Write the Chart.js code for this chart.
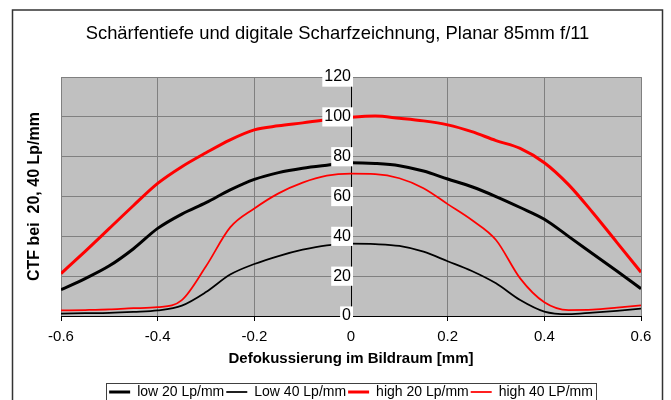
<!DOCTYPE html>
<html>
<head>
<meta charset="utf-8">
<script src="https://cdn.jsdelivr.net/npm/chart.js@4.4.0/dist/chart.umd.min.js"></script>
<style>
  html, body { margin: 0; padding: 0; background: #fff; }
  #grafico { display: block; }
</style>
</head>
<body>
<canvas id="grafico" width="671" height="400"></canvas>
<script>
/* DADOS */

const defokus = [-0.6, -0.55, -0.5, -0.45, -0.4, -0.35, -0.3, -0.25, -0.2, -0.15, -0.1, -0.05, 0,
                 0.05, 0.1, 0.15, 0.2, 0.25, 0.3, 0.35, 0.4, 0.45, 0.5, 0.55, 0.6];

const low20 = [13.2, 18.8, 25.2, 33.8, 44, 51.2, 56.9, 63.3, 68.6, 72, 74.2, 75.7, 77,
               76.6, 75.5, 72.8, 68.8, 64.9, 60, 54.5, 48.6, 40, 31.3, 22.6, 13.7];
const low40 = [1.2, 1.4, 1.6, 2.1, 2.8, 5.2, 12, 20.8, 26.1, 30.1, 33.3, 35.5, 36.3,
               36.1, 35.2, 32.3, 27.5, 22.6, 16.4, 8, 2.2, 0.9, 1.7, 2.6, 3.7];
const high20 = [21.3, 32.5, 44, 55.5, 66.6, 75, 82, 88.5, 93.5, 95.5, 97, 98.6, 99.8,
                100.4, 99.3, 98, 96, 92.6, 88.1, 84.2, 77, 66, 52, 37, 22];
const high40 = [2.8, 3.0, 3.3, 3.9, 4.4, 8, 25, 44.5, 54, 61.6, 67, 70.5, 71.5,
                71.3, 69.2, 64.2, 56.2, 48.2, 38.2, 18.9, 6.9, 3, 3.2, 4.2, 5.4];

const xTicks = ['-0.6', '-0.4', '-0.2', '0', '0.2', '0.4', '0.6'];


/* FUNCOES */

function pontos(valores) {
    return valores.map((v, i) => ({ x: defokus[i], y: v }));
}

function rotuloX(valor) {
    let idx = Math.round((valor + 0.6) / 0.2);
    return xTicks[idx];
}

// fundo cinza da area do grafico, moldura externa e caixa da legenda
const moldura = {
    id: 'moldura',
    beforeDraw(chart) {
        const ctx = chart.ctx;
        const area = chart.chartArea;
        ctx.save();
        ctx.fillStyle = '#fff';
        ctx.fillRect(0, 0, chart.width, chart.height);
        ctx.fillStyle = '#c0c0c0';
        ctx.fillRect(area.left, area.top, area.right - area.left, area.bottom - area.top);
        ctx.restore();
    },
    afterDraw(chart) {
        const ctx = chart.ctx;
        ctx.save();
        ctx.strokeStyle = '#333';
        ctx.lineWidth = 1.5;
        ctx.strokeRect(12.5, 10, 650, 420);

        const caixas = chart.legend.legendHitBoxes;
        let esq = Math.min(...caixas.map(c => c.left));
        let dir = Math.max(...caixas.map(c => c.left + c.width));
        ctx.strokeStyle = '#404040';
        ctx.lineWidth = 1;
        ctx.strokeRect(Math.round(esq - 3) + 0.5, Math.round(chart.legend.top) + 0.5, Math.round(dir - esq + 6), 30);
        ctx.restore();
    }
};


/* GRAFICO */

Chart.defaults.font.family = "'Liberation Sans', Arial, sans-serif";
Chart.defaults.color = '#000';

const grafico = document.querySelector('#grafico');

const graficoCTF = new Chart(grafico, {
    type: 'line',
    data: {
        datasets: [{
            label: 'low 20 Lp/mm',
            data: pontos(low20),
            borderColor: '#000',
            backgroundColor: '#000',
            borderWidth: 3
        }, {
            label: 'Low 40 Lp/mm',
            data: pontos(low40),
            borderColor: '#000',
            backgroundColor: '#000',
            borderWidth: 1.75
        }, {
            label: 'high 20 Lp/mm',
            data: pontos(high20),
            borderColor: '#ff0000',
            backgroundColor: '#ff0000',
            borderWidth: 3
        }, {
            label: 'high 40 LP/mm',
            data: pontos(high40),
            borderColor: '#ff0000',
            backgroundColor: '#ff0000',
            borderWidth: 1.75
        }]
    },
    options: {
        responsive: false,
        animation: false,
        layout: { padding: { left: 34, right: 30, top: 0, bottom: -9 } },
        elements: {
            point: { radius: 0 },
            line: { cubicInterpolationMode: 'monotone' }
        },
        scales: {
            x: {
                type: 'linear',
                position: 'bottom',
                min: -0.6,
                max: 0.6,
                ticks: { stepSize: 0.2, padding: 7, font: { size: 15 }, callback: rotuloX },
                grid: { color: '#808080', tickColor: '#000', tickLength: 5 },
                border: { color: '#000' },
                title: {
                    display: true,
                    text: 'Defokussierung im Bildraum [mm]',
                    font: { size: 15, weight: 'bold' },
                    padding: { top: -3, bottom: 15 }
                }
            },
            y: {
                type: 'linear',
                position: { x: 0 },
                min: 0,
                max: 120,
                ticks: {
                    stepSize: 20,
                    padding: 5,
                    font: { size: 16 },
                    showLabelBackdrop: true,
                    backdropColor: '#fff',
                    backdropPadding: { x: 2, y: 0 },
                    z: 1
                },
                grid: { color: '#808080', tickColor: '#000', tickLength: 5 },
                border: { color: '#000' }
            },
            yTitel: {
                type: 'linear',
                axis: 'y',
                position: 'left',
                ticks: { display: false },
                grid: { display: false, drawTicks: false },
                border: { display: false },
                title: {
                    display: true,
                    text: 'CTF bei  20, 40 Lp/mm',
                    font: { size: 16, weight: 'bold' },
                    padding: { top: -9, bottom: 16.8 }
                }
            }
        },
        plugins: {
            title: {
                display: true,
                text: 'Schärfentiefe und digitale Scharfzeichnung, Planar 85mm f/11',
                font: { size: 18.4, weight: 'normal' },
                color: '#000',
                padding: { top: 23, bottom: 32 }
            },
            legend: {
                position: 'bottom',
                fullSize: false,
                labels: {
                    usePointStyle: true,
                    pointStyle: 'line',
                    pointStyleWidth: 21,
                    padding: 2,
                    font: { size: 14 }
                }
            },
            tooltip: { enabled: false }
        }
    },
    plugins: [moldura]
});
</script>
</body>
</html>
